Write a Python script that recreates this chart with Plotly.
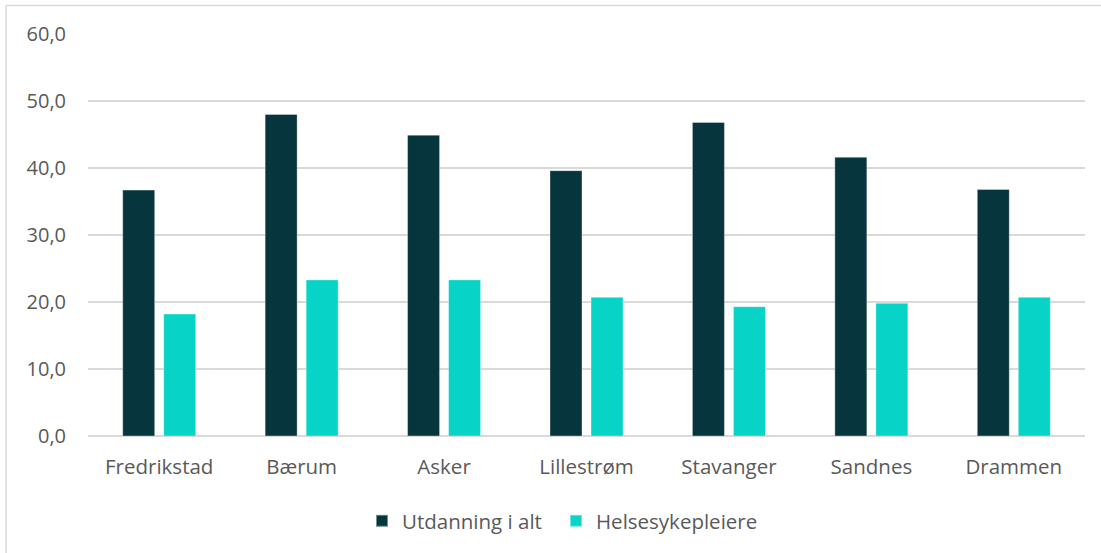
import plotly.graph_objects as go

categories = ["Fredrikstad", "Bærum", "Asker", "Lillestrøm", "Stavanger", "Sandnes", "Drammen"]
utdanning_i_alt = [36.7, 48.0, 44.9, 39.6, 46.8, 41.6, 36.8]
helsesykepleiere = [18.2, 23.3, 23.3, 20.7, 19.3, 19.8, 20.7]
y_ticks = [0, 10, 20, 30, 40, 50, 60]

FONT = "Open Sans"
GRAY = "#595959"

fig = go.Figure()
fig.add_trace(go.Bar(
    x=categories, y=utdanning_i_alt, name="Utdanning i alt", legend="legend", showlegend=True,
    marker=dict(color="#06353D", line=dict(color="rgba(255,255,255,0.45)", width=0.8)),
))
fig.add_trace(go.Bar(
    x=categories, y=helsesykepleiere, name="Helsesykepleiere", legend="legend2", showlegend=True,
    marker=dict(color="#07D4C6", line=dict(color="rgba(255,255,255,0.45)", width=0.8)),
))

L, R, T, B = 88, 16, 34, 117
W, H = 1101, 553
pw, ph = W - L - R, H - T - B

def px_x(p):
    return (p - L) / pw

def px_y(p):
    return (H - B - p) / ph

legend_style = dict(orientation="h", xanchor="left", y=px_y(521), yanchor="middle",
                    font=dict(size=20.5, color=GRAY), itemsizing="constant", itemwidth=30,
                    bgcolor="rgba(0,0,0,0)", visible=True)

fig.update_layout(
    width=W, height=H,
    showlegend=True,
    margin=dict(l=L, r=R, t=T, b=B),
    paper_bgcolor="white", plot_bgcolor="white",
    separators=", ",
    barmode="group", bargap=0.424, bargroupgap=0.22,
    font=dict(family=FONT, size=20, color=GRAY),
    xaxis=dict(showgrid=False, showline=False, ticks="", tickfont=dict(size=20.5, color=GRAY),
               ticklabelstandoff=16),
    yaxis=dict(range=[0, 60], tickvals=y_ticks, tickformat=".1f", showgrid=True,
               gridcolor="#D9D9D9", gridwidth=1.5, zeroline=True, zerolinecolor="#D9D9D9",
               zerolinewidth=1.5, showline=False, ticks="", tickfont=dict(size=20, color=GRAY),
               ticklabelstandoff=21),
    legend=dict(x=px_x(362), **legend_style),
    legend2=dict(x=px_x(556), **legend_style),
    shapes=[
        dict(type="line", xref="paper", yref="paper", x0=px_x(6), x1=px_x(1101), y0=px_y(5.5), y1=px_y(5.5),
             line=dict(color="#D9D9D9", width=1.5)),
        dict(type="line", xref="paper", yref="paper", x0=px_x(6), x1=px_x(6), y0=px_y(5.5), y1=px_y(553),
             line=dict(color="#D9D9D9", width=1.5)),
    ],
)

fig.write_html("out.html", config={"displayModeBar": False},
               post_script="document.body.style.margin='0';document.body.style.overflow='hidden';")
